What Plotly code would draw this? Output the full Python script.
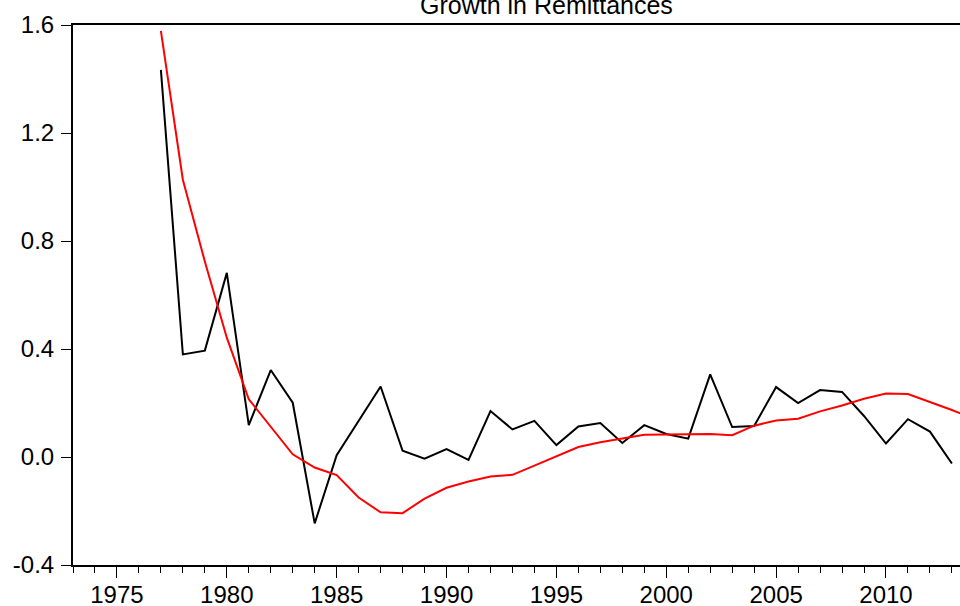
import plotly.graph_objects as go

years_actual = list(range(1977, 2014))
growth_actual = [1.434, 0.380, 0.394, 0.682, 0.118, 0.322, 0.201, -0.246, 0.007, 0.134,
                 0.261, 0.023, -0.006, 0.029, -0.011, 0.170, 0.102, 0.134, 0.044, 0.113,
                 0.126, 0.052, 0.118, 0.085, 0.068, 0.306, 0.111, 0.115, 0.259, 0.200,
                 0.248, 0.241, 0.152, 0.050, 0.140, 0.094, -0.024]

years_trend = list(range(1977, 2015))
growth_trend = [1.578, 1.027, 0.724, 0.442, 0.214, 0.113, 0.010, -0.039, -0.067, -0.150,
                -0.205, -0.208, -0.154, -0.114, -0.091, -0.072, -0.066, -0.032, 0.002, 0.037,
                0.055, 0.068, 0.082, 0.083, 0.085, 0.085, 0.081, 0.116, 0.135, 0.142,
                0.169, 0.191, 0.216, 0.235, 0.233, 0.204, 0.174, 0.142]

y_tick_vals = [-0.4, 0.0, 0.4, 0.8, 1.2, 1.6]
y_tick_text = ["-0.4", "0.0", "0.4", "0.8", "1.2", "1.6"]
x_tick_vals = [1975, 1980, 1985, 1990, 1995, 2000, 2005, 2010]
x_tick_text = [str(v) for v in x_tick_vals]

title_text = "Growth in Remittances"
FONT = "Liberation Sans, Arial, Helvetica, sans-serif"

fig = go.Figure()
fig.add_trace(go.Scatter(x=years_actual, y=growth_actual, mode="lines",
                         line=dict(color="black", width=2), showlegend=False,
                         cliponaxis=True))
fig.add_trace(go.Scatter(x=years_trend, y=growth_trend, mode="lines",
                         line=dict(color="#ff0000", width=2), showlegend=False,
                         cliponaxis=True))

fig.update_layout(
    width=960, height=606,
    margin=dict(l=73, r=0, t=25, b=41, pad=0, autoexpand=False),
    paper_bgcolor="white", plot_bgcolor="white",
    font=dict(family=FONT, color="black", size=24),
)
fig.add_annotation(text=title_text, xref="paper", yref="paper",
                   x=(546 - 73) / 887, y=1, xanchor="center", yanchor="bottom",
                   yshift=4, showarrow=False,
                   font=dict(family=FONT, size=25, color="black"))
fig.update_xaxes(
    range=[1973, 1973 + 887.3/21.98],
    automargin=False,
    showgrid=False, zeroline=False,
    showline=True, linecolor="black", linewidth=2, mirror=True,
    tickmode="array", tickvals=x_tick_vals, ticktext=x_tick_text,
    ticks="outside", ticklen=11, tickwidth=1, tickcolor="black",
    ticklabelstandoff=-4,
    tickfont=dict(family=FONT, size=24, color="black"),
    minor=dict(dtick=1, tick0=1973, ticks="outside", ticklen=6, tickwidth=1,
               tickcolor="black", showgrid=False),
)
fig.update_yaxes(
    range=[-0.4, 1.6],
    automargin=False,
    showgrid=False, zeroline=False,
    showline=True, linecolor="black", linewidth=2, mirror=False,
    tickmode="array", tickvals=y_tick_vals, ticktext=y_tick_text,
    ticks="outside", ticklen=10, tickwidth=1, tickcolor="black",
    ticklabelstandoff=2,
    tickfont=dict(family=FONT, size=24, color="black"),
)

fig.write_html("out.html",
               config={"displayModeBar": False},
               post_script="document.body.style.margin='0';document.body.style.overflow='hidden';")
